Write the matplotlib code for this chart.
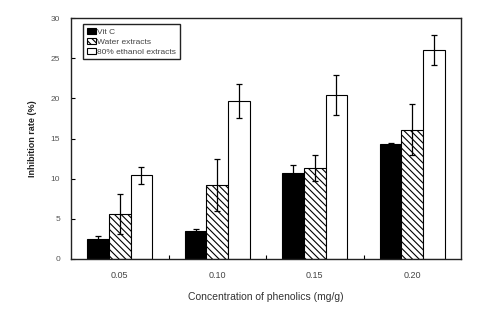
import matplotlib
matplotlib.use('Agg')
import matplotlib.pyplot as plt
import numpy as np

# Data
concentrations = ['0.05', '0.10', '0.15', '0.20']
series_names = ['Vit C', 'Water extracts', '80% ethanol extracts']
vit_c = [2.45, 3.5, 10.75, 14.3]
vit_c_err = [0.45, 0.2, 1.0, 0.1]
water = [5.6, 9.2, 11.3, 16.1]
water_err = [2.5, 3.2, 1.6, 3.2]
ethanol = [10.4, 19.7, 20.4, 26.0]
ethanol_err = [1.1, 2.1, 2.5, 1.9]

plt.rcParams['font.family'] = ['Liberation Sans', 'DejaVu Sans']
plt.rcParams['hatch.linewidth'] = 0.8

fig = plt.figure(figsize=(4.84, 3.12), dpi=100)
ax = fig.add_axes([0.1467, 0.170, 0.8058, 0.772])

x = np.arange(len(concentrations))
width = 0.222
err_kw = dict(ecolor='black', elinewidth=0.9, capsize=2.5, capthick=0.9)

ax.bar(x - width, vit_c, width, yerr=vit_c_err, color='black',
       edgecolor='black', linewidth=0.8, label=series_names[0], error_kw=err_kw)
ax.bar(x, water, width, yerr=water_err, color='white', hatch='\\\\\\\\\\',
       edgecolor='black', linewidth=0.8, label=series_names[1], error_kw=err_kw)
ax.bar(x + width, ethanol, width, yerr=ethanol_err, color='white',
       edgecolor='black', linewidth=0.8, label=series_names[2], error_kw=err_kw)

ax.set_xlim(-0.5, 3.5)
ax.set_ylim(0, 30)
ax.set_yticks([0, 5, 10, 15, 20, 25, 30])
ax.set_xticks(x)
ax.set_xticklabels(concentrations)
ax.set_xticks([0.5, 1.5, 2.5], minor=True)
ax.tick_params(axis='x', which='major', length=0, pad=9, labelsize=6.5,
               labelcolor='#444444')
ax.tick_params(axis='x', which='minor', length=3, direction='in', width=0.8)
ax.tick_params(axis='y', length=3, direction='in', width=0.8, pad=8,
               labelsize=6, labelcolor='#555555')
for s in ax.spines.values():
    s.set_linewidth(1.0)
    s.set_color('#222222')

ax.set_xlabel('Concentration of phenolics (mg/g)', fontsize=7.5,
              color='#333333', labelpad=8)
ax.set_ylabel('Inhibition rate (%)', fontsize=6.5, fontweight='bold',
              color='#222222', labelpad=10)

leg = ax.legend(loc='upper left', bbox_to_anchor=(0.025, 0.985), fontsize=6,
                fancybox=False, framealpha=1, edgecolor='#222222',
                handlelength=1.1, handleheight=0.9, handletextpad=0.2,
                borderpad=0.4, labelspacing=0.2, borderaxespad=0.3)
leg.get_frame().set_linewidth(1.0)
for t in leg.get_texts():
    t.set_color('#444444')

fig.savefig('out.png', dpi=100)
